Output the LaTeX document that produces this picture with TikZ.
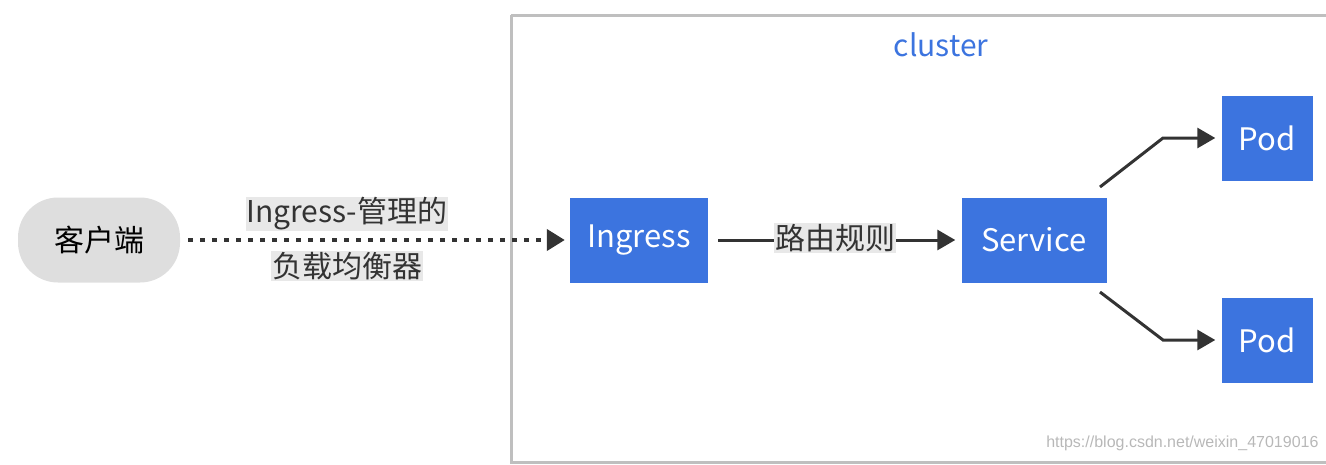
\documentclass[tikz,border=0pt]{standalone}
\usepackage{fontspec}
\setmainfont{Noto Sans CJK SC}
\usetikzlibrary{arrows.meta}
\definecolor{kblue}{HTML}{3C74DF}
\definecolor{lbl}{HTML}{E8E8E8}
\definecolor{ink}{HTML}{333333}
\begin{document}
\begin{tikzpicture}[x=1pt,y=-1pt,
  box/.style={fill=kblue,text=white,font=\fontsize{31}{36}\selectfont,inner sep=0pt},
  lab/.style={fill=lbl,text=ink,font=\fontsize{30}{34}\selectfont,inner sep=1pt},
  conn/.style={draw=ink,line width=3pt,-{Triangle[length=18pt,width=20pt]}}]
\useasboundingbox (0,0) rectangle (1326,464);
\draw[draw=black!25,line width=3pt] (511,15) -- (1326,15) (511,15) -- (511,462) -- (1326,462);
\node[text=kblue,font=\fontsize{30}{34}\selectfont] (cl) at (941,45) {cluster};
\node[fill=black!13,rounded corners=40pt,minimum width=162pt,minimum height=85pt,font=\fontsize{30}{34}\selectfont,text=black] (c) at (99,240) {客户端};
\node[box,minimum width=138pt,minimum height=85pt] (i) at (639,240) {Ingress};
\node[box,minimum width=145pt,minimum height=85pt] (s) at (1034,240) {Service};
\node[box,minimum width=91pt,minimum height=85pt] (p1) at (1267,138) {Pod};
\node[box,minimum width=91pt,minimum height=85pt] (p2) at (1267,340) {Pod};
\draw[conn,line width=4pt,dash pattern=on 5pt off 7pt,-{Triangle[length=18pt,width=21pt]}] (c.east) ++(8,0) coordinate (c0) (c0) -- ([xshift=-5pt]i.west);
\node[lab] (l1) at (347,214) {Ingress-管理的};
\node[lab] (l2) at (347,266) {负载均衡器};
\draw[conn] ([xshift=10pt]i.east) -- ([xshift=-6pt]s.west);
\node[lab] (l3) at (835,238) {路由规则};
\coordinate (a1) at (1100,187); \coordinate (a2) at (1100,292);
\draw[conn] (a1) -- (1163,138) -- ([xshift=-6pt]p1.west);
\draw[conn] (a2) -- (1163,340) -- ([xshift=-6pt]p2.west);
\node[text=black!28,font={\fontspec{Liberation Sans}\fontsize{16}{18}\selectfont},anchor=east] (wm) at (1322,443) {https://blog.csdn.net/weixin\_47019016};
\end{tikzpicture}
\end{document}
